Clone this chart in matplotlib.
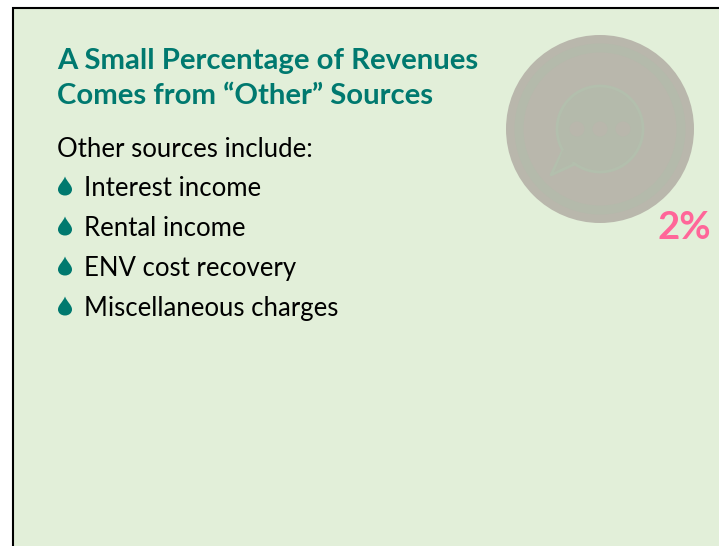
import numpy as np
import matplotlib
matplotlib.use("Agg")
import matplotlib.pyplot as plt
from matplotlib.patches import Circle, Rectangle, PathPatch
from matplotlib.path import Path

W, H = 719, 546

title_lines = ["A Small Percentage of Revenues", "Comes from “Other” Sources"]
intro = "Other sources include:"
bullets = ["Interest income", "Rental income", "ENV cost recovery", "Miscellaneous charges"]
bullet_base = [196, 236, 276, 316]
pct_label = "2%"

TEAL = "#00796f"
BG = "#e2efd9"
DISC = '#b9b7ac'
ICON = '#b4baab'
EDGE = '#b3bfad'

plt.rcParams['font.family'] = ['Lato', 'DejaVu Sans']

fig = plt.figure(figsize=(W/100, H/100), dpi=100)
ax = fig.add_axes([0, 0, 1, 1])
ax.set_xlim(0, W)
ax.set_ylim(H, 0)
ax.axis('off')

# slide background and border
ax.add_patch(Rectangle((13, 8), W, H, fc=BG, ec='black', lw=1.5))

# title
ax.text(57, 69.5, title_lines[0], fontsize=21.1, fontweight='bold', color=TEAL, va='baseline')
ax.text(57, 104, title_lines[1], fontsize=21.1, fontweight='bold', color=TEAL, va='baseline')
ax.text(57, 157, intro, fontsize=18.5, color='black', va='baseline')

# drop shaped bullets
def drop(x, y, s=1.0):
    verts = [(x, y-9.5*s), (x+2, y-4*s), (x+7*s, y-1*s), (x+7*s, y+3.5*s),
             (x+7*s, y+7*s), (x+4*s, y+9.5*s), (x, y+9.5*s),
             (x-4*s, y+9.5*s), (x-7*s, y+7*s), (x-7*s, y+3.5*s),
             (x-7*s, y-1*s), (x-2, y-4*s), (x, y-9.5*s)]
    codes = [Path.MOVETO] + [Path.CURVE4]*12
    return PathPatch(Path(verts, codes), fc=TEAL, ec='none')

for label, y in zip(bullets, bullet_base):
    ax.add_patch(drop(65, y-10, 1.0))
    ax.text(84, y, label, fontsize=18.5, color='black', va='baseline')

# faded chat icon
cx, cy = 600, 129
ax.add_patch(Circle((cx, cy), 94, fc=DISC, ec='none', zorder=2))
ax.add_patch(Circle((cx, cy), 81, fc='none', ec=ICON, lw=6.5, zorder=3))

tail = [(562, 152), (551, 175), (575, 164)]
ax.add_patch(plt.Polygon(tail, closed=True, fc=ICON, ec=EDGE, lw=2, joinstyle='round', zorder=4))
ax.add_patch(Circle((cx, cy), 43, fc=ICON, ec=EDGE, lw=2, zorder=5))
ax.add_patch(plt.Polygon([(563, 150), (556, 169), (578, 160)], closed=True, fc=ICON, ec='none', zorder=6))
for dx in [-23, 0, 23]:
    ax.add_patch(Circle((cx+dx, cy), 7.5, fc=DISC, ec='none', zorder=7))

ax.text(684, 239, pct_label, fontsize=27.5, fontweight='bold', color='#ff6699', ha='center', va='baseline')

fig.savefig("out.png", dpi=100)
